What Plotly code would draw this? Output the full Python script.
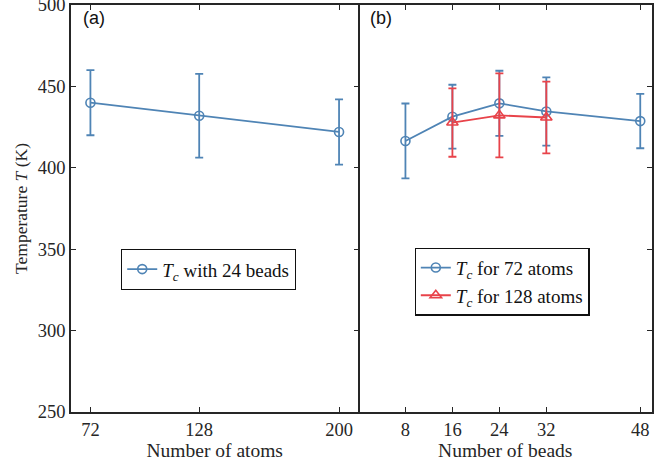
import plotly.graph_objects as go

# Panel (a): Tc vs number of atoms (24 beads)
atoms = [72, 128, 200]
tc_atoms = [440, 432, 422]
tc_atoms_err = [20, 25.7, 20]

# Panel (b): Tc vs number of beads
beads_72 = [8, 16, 24, 32, 48]
tc_72 = [416.5, 431.4, 439.6, 434.6, 428.7]
tc_72_err = [23, 19.6, 20, 21, 16.7]

beads_128 = [16, 24, 32]
tc_128 = [427.8, 432.2, 430.9]
tc_128_err = [21, 25.8, 22]

atoms_ticks = [72, 128, 200]
beads_ticks = [8, 16, 24, 32, 48]
y_ticks = [250, 300, 350, 400, 450, 500]

BLUE = "#4f84b5"
RED = "#e8434a"
AX = "#262626"
SERIF = "Liberation Serif, Times New Roman, serif"
SANS = "Liberation Sans, Arial, sans-serif"

fig = go.Figure()

fig.add_trace(go.Scatter(
    x=atoms, y=tc_atoms, mode="lines+markers",
    line=dict(color=BLUE, width=1.8),
    marker=dict(symbol="circle-open", size=9, color=BLUE, line=dict(width=1.6, color=BLUE)),
    error_y=dict(type="data", array=tc_atoms_err, color=BLUE, thickness=1.8, width=4),
    name="<i>T</i><sub><i>c</i></sub> with 24 beads",
    xaxis="x", yaxis="y", legend="legend",
))

fig.add_trace(go.Scatter(
    x=beads_72, y=tc_72, mode="lines+markers",
    line=dict(color=BLUE, width=1.8),
    marker=dict(symbol="circle-open", size=9, color=BLUE, line=dict(width=1.6, color=BLUE)),
    error_y=dict(type="data", array=tc_72_err, color=BLUE, thickness=1.8, width=4),
    name="<i>T</i><sub><i>c</i></sub> for 72 atoms",
    xaxis="x2", yaxis="y2", legend="legend2",
))

fig.add_trace(go.Scatter(
    x=beads_128, y=tc_128, mode="lines+markers",
    line=dict(color=RED, width=1.8),
    marker=dict(symbol="triangle-up-open", size=10, color=RED, line=dict(width=1.6, color=RED)),
    error_y=dict(type="data", array=tc_128_err, color=RED, thickness=1.8, width=4),
    name="<i>T</i><sub><i>c</i></sub> for 128 atoms",
    xaxis="x2", yaxis="y2", legend="legend2",
))

split = 0.4948

common_axis = dict(
    showline=True, linecolor=AX, linewidth=1.6, mirror="ticks",
    ticks="inside", ticklen=5, tickwidth=1.2, tickcolor=AX,
    showgrid=False, zeroline=False, ticklabeloverflow="allow", automargin=False,
    tickfont=dict(family=SERIF, size=18.5, color=AX),
)
title_font = dict(family=SERIF, size=19.5, color=AX)

fig.update_layout(
    width=664, height=466,
    margin=dict(l=71, r=12, t=5, b=54, autoexpand=False),
    paper_bgcolor="white", plot_bgcolor="white",
    showlegend=True,
    xaxis=dict(domain=[0, split], range=[62, 210], tickvals=atoms_ticks,
               title=dict(text="Number of atoms", font=title_font, standoff=0),
               anchor="y", **common_axis),
    xaxis2=dict(domain=[split, 1], range=[0, 50], tickvals=beads_ticks,
                title=dict(text="Number of beads", font=title_font, standoff=0),
                anchor="y2", **common_axis),
    yaxis=dict(range=[250, 500], tickvals=y_ticks, anchor="x",
               title=dict(text="Temperature <i>T</i> (K)", font=dict(family=SERIF, size=17.5, color=AX), standoff=6),
               **common_axis),
    yaxis2=dict(range=[250, 500], tickvals=y_ticks, anchor="x2", side="right",
                showticklabels=False, automargin=False,
                showline=True, linecolor=AX, linewidth=1.6, mirror=False,
                ticks="inside", ticklen=5, tickwidth=1.2, tickcolor=AX,
                showgrid=False, zeroline=False),
    legend=dict(x=0.2367, y=0.350, xanchor="center", yanchor="middle",
                bgcolor="white", bordercolor="#111111", borderwidth=1.2,
                font=dict(family=SERIF, size=19, color="#111111"),
                itemwidth=30, tracegroupgap=0),
    legend2=dict(x=0.742, y=0.3206, xanchor="center", yanchor="middle",
                 bgcolor="white", bordercolor="#111111", borderwidth=1.2,
                 font=dict(family=SERIF, size=19, color="#111111"),
                 itemwidth=30, tracegroupgap=0),
    annotations=[
        dict(text="(a)", x=0.018, y=0.998, xref="paper", yref="paper",
             xanchor="left", yanchor="top", showarrow=False,
             font=dict(family=SANS, size=18, color="#111111")),
        dict(text="(b)", x=split + 0.016, y=0.998, xref="paper", yref="paper",
             xanchor="left", yanchor="top", showarrow=False,
             font=dict(family=SANS, size=18, color="#111111")),
    ],
)

fig.write_html("out.html", config={"displayModeBar": False},
               post_script="document.body.style.margin='0';document.body.style.padding='0';")
